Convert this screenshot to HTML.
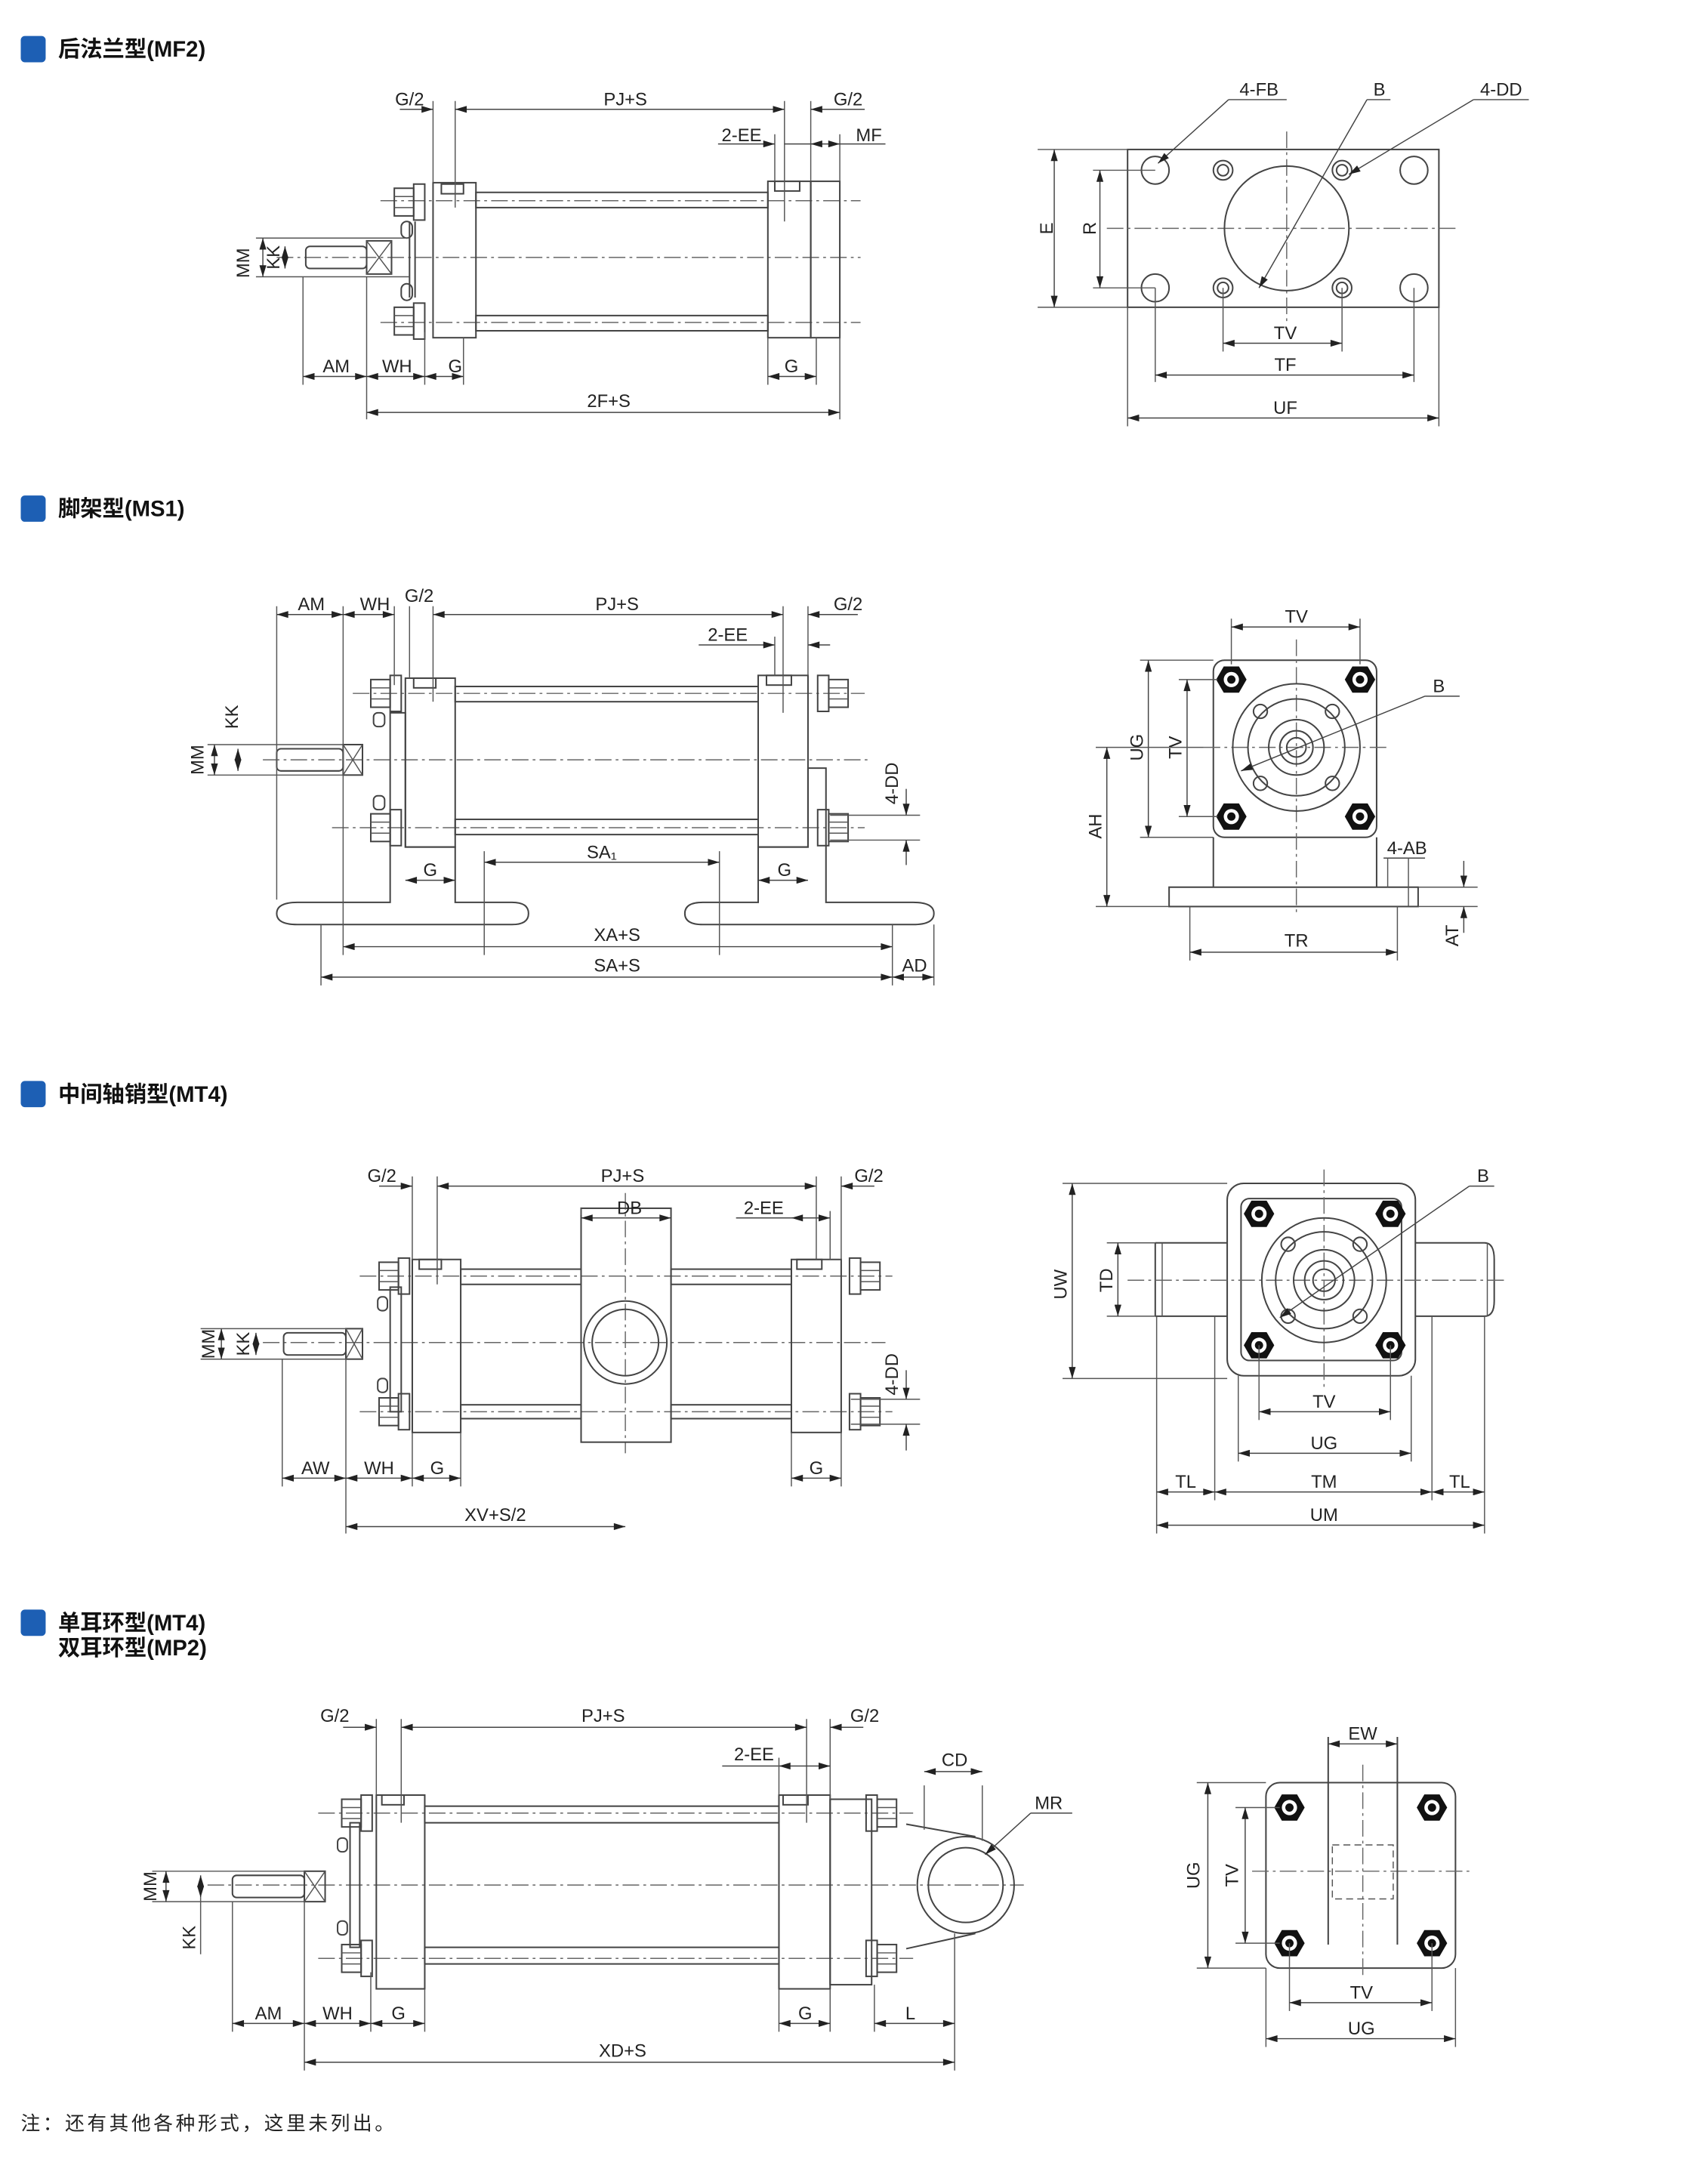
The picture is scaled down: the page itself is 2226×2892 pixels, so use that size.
<!DOCTYPE html>
<html><head><meta charset="utf-8"><style>
html,body{margin:0;padding:0;background:#fff}
svg{display:block}
.o{fill:none;stroke:#444;stroke-width:1.1}
.t{fill:none;stroke:#555;stroke-width:0.8}
.c{fill:none;stroke:#666;stroke-width:0.8;stroke-dasharray:12,3,2,3}
.d{fill:none;stroke:#444;stroke-width:0.8}
.dm{fill:none;stroke:#444;stroke-width:0.8;marker-start:url(#a);marker-end:url(#a)}
.de{fill:none;stroke:#444;stroke-width:0.8;marker-end:url(#a)}
text{font-family:"Liberation Sans",sans-serif;font-size:13px;fill:#222}
.h{font-family:"Liberation Sans","Noto Sans CJK SC",sans-serif;font-size:16px;font-weight:bold;fill:#111}
.nut{fill:#111;stroke:#111}
</style></head><body>
<svg width="2226" height="2892" viewBox="0 0 1215 1578" preserveAspectRatio="none" xmlns="http://www.w3.org/2000/svg">
<defs>
<marker id="a" viewBox="0 0 10 6" refX="10" refY="3" markerWidth="9" markerHeight="5" markerUnits="userSpaceOnUse" orient="auto-start-reverse"><path d="M0,0L10,3L0,6z" fill="#222"/></marker>
<g id="hex"><polygon points="-11,0 -5.5,-9.5 5.5,-9.5 11,0 5.5,9.5 -5.5,9.5" fill="#111"/><circle r="5.5" fill="#fff"/><circle r="3" fill="#111"/></g>
<g id="nutL"><rect x="-8" y="-10" width="14" height="20" class="o" fill="#fff"/><rect x="6" y="-13" width="8" height="26" class="o"/><line x1="-8" y1="-4" x2="6" y2="-4" class="t"/><line x1="-8" y1="4" x2="6" y2="4" class="t"/></g>
</defs>

<!-- ===== Section 1 MF2 ===== -->
<rect x="15" y="26" width="18" height="19" rx="3" fill="#1d5fb4"/>
<text x="42" y="41" class="h">后法兰型(MF2)</text>
<!-- left view -->
<line x1="200" y1="186" x2="622" y2="186" class="c"/>
<line x1="275" y1="145" x2="622" y2="145" class="c"/>
<line x1="275" y1="233" x2="622" y2="233" class="c"/>
<rect x="313" y="132" width="31" height="112" class="o"/>
<rect x="344" y="139" width="211" height="11" class="o"/>
<rect x="344" y="228" width="211" height="11" class="o"/>
<rect x="555" y="131" width="31" height="113" class="o"/>
<rect x="586" y="131" width="21" height="113" class="o"/>
<rect x="319" y="133" width="16" height="7" class="o"/>
<rect x="560" y="131" width="18" height="7" class="o"/>
<use href="#nutL" x="293" y="146"/>
<use href="#nutL" x="293" y="232"/>
<line x1="300" y1="160" x2="300" y2="215" class="o"/>
<line x1="296" y1="160" x2="296" y2="215" class="o"/>
<rect x="290" y="160" width="8" height="12" rx="4" class="o"/>
<rect x="290" y="205" width="8" height="12" rx="4" class="o"/>
<rect x="265" y="174" width="18" height="24" class="o"/>
<path d="M265,174L283,198M283,174L265,198" class="t"/>
<rect x="221" y="178" width="44" height="16" rx="3" class="o"/>
<line x1="185" y1="172" x2="296" y2="172" class="t"/>
<line x1="185" y1="200" x2="296" y2="200" class="t"/>
<line x1="190" y1="172" x2="190" y2="200" class="dm"/>
<line x1="206" y1="178" x2="206" y2="194" class="dm"/>
<text x="180" y="190" transform="rotate(-90 180 190)" text-anchor="middle">MM</text>
<text x="202" y="186" transform="rotate(-90 202 186)" text-anchor="middle">KK</text>
<!-- ext lines -->
<line x1="313" y1="73" x2="313" y2="132" class="t"/>
<line x1="329" y1="73" x2="329" y2="150" class="t"/>
<line x1="567" y1="73" x2="567" y2="160" class="t"/>
<line x1="586" y1="73" x2="586" y2="131" class="t"/>
<line x1="607" y1="97" x2="607" y2="131" class="t"/>
<line x1="560" y1="97" x2="560" y2="131" class="t"/>
<line x1="289" y1="79" x2="313" y2="79" class="de"/>
<line x1="329" y1="79" x2="567" y2="79" class="dm"/>
<line x1="625" y1="79" x2="586" y2="79" class="de"/>
<text x="296" y="76" text-anchor="middle">G/2</text>
<text x="452" y="76" text-anchor="middle">PJ+S</text>
<text x="613" y="76" text-anchor="middle">G/2</text>
<line x1="519" y1="104" x2="560" y2="104" class="de"/>
<line x1="567" y1="104" x2="586" y2="104" class="d"/>
<line x1="586" y1="104" x2="607" y2="104" class="dm"/>
<line x1="607" y1="104" x2="640" y2="104" class="d"/>
<text x="536" y="102" text-anchor="middle">2-EE</text>
<text x="628" y="102" text-anchor="middle">MF</text>
<line x1="219" y1="200" x2="219" y2="278" class="t"/>
<line x1="265" y1="200" x2="265" y2="303" class="t"/>
<line x1="307" y1="240" x2="307" y2="278" class="t"/>
<line x1="335" y1="244" x2="335" y2="278" class="t"/>
<line x1="555" y1="244" x2="555" y2="278" class="t"/>
<line x1="590" y1="244" x2="590" y2="278" class="t"/>
<line x1="607" y1="244" x2="607" y2="303" class="t"/>
<line x1="219" y1="272" x2="265" y2="272" class="dm"/>
<line x1="265" y1="272" x2="307" y2="272" class="dm"/>
<line x1="307" y1="272" x2="335" y2="272" class="dm"/>
<line x1="555" y1="272" x2="590" y2="272" class="dm"/>
<line x1="265" y1="298" x2="607" y2="298" class="dm"/>
<text x="243" y="269" text-anchor="middle">AM</text>
<text x="287" y="269" text-anchor="middle">WH</text>
<text x="329" y="269" text-anchor="middle">G</text>
<text x="572" y="269" text-anchor="middle">G</text>
<text x="440" y="294" text-anchor="middle">2F+S</text>
<!-- right end view -->
<rect x="815" y="108" width="225" height="114" class="o"/>
<line x1="800" y1="165" x2="1055" y2="165" class="c"/>
<line x1="930" y1="95" x2="930" y2="232" class="c"/>
<circle cx="930" cy="165" r="45" class="o"/>
<g class="o"><circle cx="835" cy="123" r="10"/><circle cx="1022" cy="123" r="10"/><circle cx="835" cy="208" r="10"/><circle cx="1022" cy="208" r="10"/>
<circle cx="884" cy="123" r="7"/><circle cx="970" cy="123" r="7"/><circle cx="884" cy="208" r="7"/><circle cx="970" cy="208" r="7"/>
<circle cx="884" cy="123" r="4"/><circle cx="970" cy="123" r="4"/><circle cx="884" cy="208" r="4"/><circle cx="970" cy="208" r="4"/></g>
<line x1="750" y1="108" x2="815" y2="108" class="t"/>
<line x1="750" y1="222" x2="815" y2="222" class="t"/>
<line x1="790" y1="123" x2="835" y2="123" class="t"/>
<line x1="790" y1="208" x2="835" y2="208" class="t"/>
<line x1="762" y1="108" x2="762" y2="222" class="dm"/>
<line x1="795" y1="123" x2="795" y2="208" class="dm"/>
<text x="761" y="165" transform="rotate(-90 761 165)" text-anchor="middle">E</text>
<text x="792" y="165" transform="rotate(-90 792 165)" text-anchor="middle">R</text>
<line x1="884" y1="208" x2="884" y2="254" class="t"/>
<line x1="970" y1="208" x2="970" y2="254" class="t"/>
<line x1="835" y1="208" x2="835" y2="276" class="t"/>
<line x1="1022" y1="208" x2="1022" y2="276" class="t"/>
<line x1="815" y1="222" x2="815" y2="308" class="t"/>
<line x1="1040" y1="222" x2="1040" y2="308" class="t"/>
<line x1="884" y1="248" x2="970" y2="248" class="dm"/>
<line x1="835" y1="271" x2="1022" y2="271" class="dm"/>
<line x1="815" y1="302" x2="1040" y2="302" class="dm"/>
<text x="929" y="245" text-anchor="middle">TV</text>
<text x="929" y="268" text-anchor="middle">TF</text>
<text x="929" y="299" text-anchor="middle">UF</text>
<line x1="930" y1="72" x2="888" y2="72" class="d"/><line x1="888" y1="72" x2="837" y2="118" class="de"/>
<text x="910" y="69" text-anchor="middle">4-FB</text>
<line x1="1005" y1="72" x2="988" y2="72" class="d"/><line x1="988" y1="72" x2="910" y2="208" class="de"/>
<text x="997" y="69" text-anchor="middle">B</text>
<line x1="1105" y1="72" x2="1065" y2="72" class="d"/><line x1="1065" y1="72" x2="975" y2="126" class="de"/>
<text x="1085" y="69" text-anchor="middle">4-DD</text>

<!-- ===== Section 2 MS1 ===== -->
<rect x="15" y="358" width="18" height="19" rx="3" fill="#1d5fb4"/>
<text x="42" y="373" class="h">脚架型(MS1)</text>
<line x1="190" y1="549" x2="630" y2="549" class="c"/>
<line x1="255" y1="501" x2="625" y2="501" class="c"/>
<line x1="240" y1="598" x2="625" y2="598" class="c"/>
<rect x="293" y="490" width="36" height="122" class="o"/>
<rect x="329" y="496" width="219" height="11" class="o"/>
<rect x="329" y="592" width="219" height="11" class="o"/>
<rect x="548" y="488" width="36" height="124" class="o"/>
<rect x="299" y="490" width="16" height="7" class="o"/>
<rect x="554" y="488" width="18" height="7" class="o"/>
<path d="M282,515L282,652L215,652Q200,652 200,660Q200,668 215,668L370,668Q382,668 382,660Q382,652 370,652L329,652L329,612L293,612L293,515Z" class="o"/>
<path d="M597,555L597,652L660,652Q675,652 675,660Q675,668 660,668L508,668Q495,668 495,660Q495,652 508,652L548,652L548,612L584,612L584,555Z" class="o"/>
<use href="#nutL" x="276" y="501"/>
<use href="#nutL" x="276" y="598"/>
<g transform="translate(605 501) scale(-1 1)"><use href="#nutL"/></g>
<g transform="translate(605 598) scale(-1 1)"><use href="#nutL"/></g>
<rect x="270" y="515" width="8" height="10" rx="3" class="o"/>
<rect x="270" y="575" width="8" height="10" rx="3" class="o"/>
<rect x="248" y="538" width="14" height="22" class="o"/>
<path d="M248,538L262,560M262,538L248,560" class="t"/>
<rect x="200" y="541" width="48" height="16" rx="3" class="o"/>
<line x1="150" y1="538" x2="248" y2="538" class="t"/>
<line x1="150" y1="560" x2="248" y2="560" class="t"/>
<line x1="155" y1="538" x2="155" y2="560" class="dm"/>
<line x1="172" y1="541" x2="172" y2="557" class="dm"/>
<text x="147" y="549" transform="rotate(-90 147 549)" text-anchor="middle">MM</text>
<text x="172" y="518" transform="rotate(-90 172 518)" text-anchor="middle">KK</text>
<line x1="200" y1="438" x2="200" y2="650" class="t"/>
<line x1="248" y1="438" x2="248" y2="690" class="t"/>
<line x1="285" y1="438" x2="285" y2="495" class="t"/>
<line x1="296" y1="438" x2="296" y2="490" class="t"/>
<line x1="313" y1="438" x2="313" y2="507" class="t"/>
<line x1="566" y1="438" x2="566" y2="515" class="t"/>
<line x1="584" y1="438" x2="584" y2="488" class="t"/>
<line x1="200" y1="444" x2="248" y2="444" class="dm"/>
<line x1="248" y1="444" x2="285" y2="444" class="dm"/>
<line x1="313" y1="444" x2="566" y2="444" class="dm"/>
<line x1="620" y1="444" x2="584" y2="444" class="de"/>
<text x="225" y="441" text-anchor="middle">AM</text>
<text x="271" y="441" text-anchor="middle">WH</text>
<text x="303" y="435" text-anchor="middle">G/2</text>
<text x="446" y="441" text-anchor="middle">PJ+S</text>
<text x="613" y="441" text-anchor="middle">G/2</text>
<line x1="505" y1="466" x2="560" y2="466" class="de"/>
<line x1="600" y1="466" x2="584" y2="466" class="de"/>
<line x1="560" y1="460" x2="560" y2="488" class="t"/>
<text x="526" y="463" text-anchor="middle">2-EE</text>
<line x1="600" y1="589" x2="665" y2="589" class="t"/>
<line x1="600" y1="607" x2="665" y2="607" class="t"/>
<line x1="655" y1="570" x2="655" y2="589" class="de"/>
<line x1="655" y1="625" x2="655" y2="607" class="de"/>
<text x="649" y="566" transform="rotate(-90 649 566)" text-anchor="middle">4-DD</text>
<line x1="350" y1="615" x2="350" y2="690" class="t"/>
<line x1="520" y1="615" x2="520" y2="690" class="t"/>
<line x1="350" y1="623" x2="520" y2="623" class="dm"/>
<text x="435" y="620" text-anchor="middle">SA₁</text>
<line x1="293" y1="636" x2="329" y2="636" class="dm"/>
<line x1="548" y1="636" x2="584" y2="636" class="dm"/>
<text x="311" y="633" text-anchor="middle">G</text>
<text x="567" y="633" text-anchor="middle">G</text>
<line x1="232" y1="668" x2="232" y2="712" class="t"/>
<line x1="645" y1="668" x2="645" y2="712" class="t"/>
<line x1="675" y1="668" x2="675" y2="712" class="t"/>
<line x1="248" y1="684" x2="645" y2="684" class="dm"/>
<line x1="232" y1="706" x2="645" y2="706" class="dm"/>
<line x1="645" y1="706" x2="675" y2="706" class="dm"/>
<text x="446" y="680" text-anchor="middle">XA+S</text>
<text x="446" y="702" text-anchor="middle">SA+S</text>
<text x="661" y="702" text-anchor="middle">AD</text>
<!-- MS1 end view -->
<rect x="877" y="477" width="118" height="128" rx="8" class="o"/>
<line x1="877" y1="605" x2="877" y2="641" class="o"/>
<line x1="995" y1="605" x2="995" y2="641" class="o"/>
<rect x="845" y="641" width="180" height="14" class="o"/>
<line x1="870" y1="540" x2="1005" y2="540" class="c"/>
<line x1="937" y1="462" x2="937" y2="662" class="c"/>
<g class="o"><circle cx="937" cy="540" r="46"/><circle cx="937" cy="540" r="35"/><circle cx="937" cy="540" r="20"/><circle cx="937" cy="540" r="12"/><circle cx="937" cy="540" r="7"/>
<circle cx="911" cy="514" r="5"/><circle cx="963" cy="514" r="5"/><circle cx="911" cy="566" r="5"/><circle cx="963" cy="566" r="5"/></g>
<use href="#hex" x="890" y="491"/><use href="#hex" x="983" y="491"/><use href="#hex" x="890" y="590"/><use href="#hex" x="983" y="590"/>
<line x1="890" y1="447" x2="890" y2="480" class="t"/>
<line x1="983" y1="447" x2="983" y2="480" class="t"/>
<line x1="890" y1="453" x2="983" y2="453" class="dm"/>
<text x="937" y="450" text-anchor="middle">TV</text>
<line x1="824" y1="477" x2="877" y2="477" class="t"/>
<line x1="824" y1="605" x2="877" y2="605" class="t"/>
<line x1="852" y1="491" x2="880" y2="491" class="t"/>
<line x1="852" y1="590" x2="880" y2="590" class="t"/>
<line x1="830" y1="477" x2="830" y2="605" class="dm"/>
<line x1="858" y1="491" x2="858" y2="590" class="dm"/>
<text x="826" y="540" transform="rotate(-90 826 540)" text-anchor="middle">UG</text>
<text x="854" y="540" transform="rotate(-90 854 540)" text-anchor="middle">TV</text>
<line x1="792" y1="540" x2="870" y2="540" class="t"/>
<line x1="792" y1="655" x2="845" y2="655" class="t"/>
<line x1="800" y1="540" x2="800" y2="655" class="dm"/>
<text x="796" y="597" transform="rotate(-90 796 597)" text-anchor="middle">AH</text>
<line x1="860" y1="655" x2="860" y2="694" class="t"/>
<line x1="1010" y1="655" x2="1010" y2="694" class="t"/>
<line x1="860" y1="688" x2="1010" y2="688" class="dm"/>
<text x="937" y="684" text-anchor="middle">TR</text>
<line x1="1000" y1="620" x2="1030" y2="620" class="d"/>
<line x1="1003" y1="620" x2="1003" y2="641" class="t"/>
<line x1="1018" y1="620" x2="1018" y2="655" class="t"/>
<text x="1017" y="617" text-anchor="middle">4-AB</text>
<line x1="1025" y1="641" x2="1068" y2="641" class="t"/>
<line x1="1025" y1="655" x2="1068" y2="655" class="t"/>
<line x1="1058" y1="622" x2="1058" y2="641" class="de"/>
<line x1="1058" y1="674" x2="1058" y2="655" class="de"/>
<text x="1054" y="676" transform="rotate(-90 1054 676)" text-anchor="middle">AT</text>
<line x1="1055" y1="503" x2="1030" y2="503" class="d"/><line x1="1030" y1="503" x2="897" y2="557" class="de"/>
<text x="1040" y="500" text-anchor="middle">B</text>

<!-- ===== Section 3 MT4 ===== -->
<rect x="15" y="781" width="18" height="19" rx="3" fill="#1d5fb4"/>
<text x="42" y="796" class="h">中间轴销型(MT4)</text>
<line x1="190" y1="970" x2="640" y2="970" class="c"/>
<line x1="260" y1="922" x2="645" y2="922" class="c"/>
<line x1="260" y1="1020" x2="645" y2="1020" class="c"/>
<line x1="452" y1="862" x2="452" y2="1050" class="c"/>
<rect x="298" y="910" width="35" height="125" class="o"/>
<rect x="333" y="917" width="87" height="11" class="o"/>
<rect x="333" y="1015" width="87" height="10" class="o"/>
<rect x="485" y="917" width="87" height="11" class="o"/>
<rect x="485" y="1015" width="87" height="10" class="o"/>
<rect x="420" y="873" width="65" height="169" class="o"/>
<circle cx="452" cy="970" r="30" class="o"/><circle cx="452" cy="970" r="24" class="o"/>
<rect x="572" y="910" width="36" height="125" class="o"/>
<rect x="303" y="910" width="16" height="7" class="o"/>
<rect x="576" y="910" width="18" height="7" class="o"/>
<rect x="282" y="930" width="8" height="90" class="o"/>
<use href="#nutL" x="282" y="922"/>
<use href="#nutL" x="282" y="1020"/>
<g transform="translate(628 922) scale(-1 1)"><use href="#nutL"/></g>
<g transform="translate(628 1020) scale(-1 1)"><use href="#nutL"/></g>
<rect x="273" y="937" width="7" height="10" rx="3" class="o"/>
<rect x="273" y="996" width="7" height="10" rx="3" class="o"/>
<rect x="250" y="960" width="12" height="22" class="o"/>
<path d="M250,960L262,982M262,960L250,982" class="t"/>
<rect x="205" y="963" width="45" height="16" rx="3" class="o"/>
<line x1="145" y1="960" x2="250" y2="960" class="t"/>
<line x1="145" y1="982" x2="250" y2="982" class="t"/>
<line x1="160" y1="960" x2="160" y2="982" class="dm"/>
<line x1="185" y1="963" x2="185" y2="979" class="dm"/>
<text x="155" y="971" transform="rotate(-90 155 971)" text-anchor="middle">MM</text>
<text x="180" y="971" transform="rotate(-90 180 971)" text-anchor="middle">KK</text>
<line x1="298" y1="850" x2="298" y2="910" class="t"/>
<line x1="316" y1="850" x2="316" y2="928" class="t"/>
<line x1="590" y1="850" x2="590" y2="910" class="t"/>
<line x1="608" y1="850" x2="608" y2="910" class="t"/>
<line x1="274" y1="857" x2="298" y2="857" class="de"/>
<line x1="316" y1="857" x2="590" y2="857" class="dm"/>
<line x1="632" y1="857" x2="608" y2="857" class="de"/>
<text x="276" y="854" text-anchor="middle">G/2</text>
<text x="450" y="854" text-anchor="middle">PJ+S</text>
<text x="628" y="854" text-anchor="middle">G/2</text>
<line x1="420" y1="873" x2="420" y2="878" class="t"/>
<line x1="420" y1="880" x2="485" y2="880" class="dm"/>
<text x="455" y="877" text-anchor="middle">DB</text>
<line x1="532" y1="880" x2="572" y2="880" class="d"/>
<line x1="572" y1="880" x2="600" y2="880" class="dm"/>
<line x1="600" y1="875" x2="600" y2="910" class="t"/>
<text x="552" y="877" text-anchor="middle">2-EE</text>
<line x1="615" y1="1011" x2="665" y2="1011" class="t"/>
<line x1="615" y1="1029" x2="665" y2="1029" class="t"/>
<line x1="655" y1="990" x2="655" y2="1011" class="de"/>
<line x1="655" y1="1048" x2="655" y2="1029" class="de"/>
<text x="649" y="993" transform="rotate(-90 649 993)" text-anchor="middle">4-DD</text>
<line x1="204" y1="982" x2="204" y2="1074" class="t"/>
<line x1="250" y1="982" x2="250" y2="1108" class="t"/>
<line x1="333" y1="1035" x2="333" y2="1074" class="t"/>
<line x1="298" y1="1035" x2="298" y2="1074" class="t"/>
<line x1="572" y1="1035" x2="572" y2="1074" class="t"/>
<line x1="608" y1="1035" x2="608" y2="1074" class="t"/>
<line x1="204" y1="1068" x2="250" y2="1068" class="dm"/>
<line x1="250" y1="1068" x2="298" y2="1068" class="dm"/>
<line x1="298" y1="1068" x2="333" y2="1068" class="dm"/>
<line x1="572" y1="1068" x2="608" y2="1068" class="dm"/>
<line x1="250" y1="1103" x2="452" y2="1103" class="dm"/>
<text x="228" y="1065" text-anchor="middle">AW</text>
<text x="274" y="1065" text-anchor="middle">WH</text>
<text x="316" y="1065" text-anchor="middle">G</text>
<text x="590" y="1065" text-anchor="middle">G</text>
<text x="358" y="1099" text-anchor="middle">XV+S/2</text>
<!-- MT4 end view -->
<path d="M835,898L887,898M835,951L887,951M835,898L835,951" class="o"/>
<path d="M1023,898L1073,898Q1080,898 1080,910L1080,940Q1080,951 1073,951L1023,951" class="o"/>
<line x1="840" y1="898" x2="840" y2="951" class="t"/>
<line x1="1075" y1="898" x2="1075" y2="951" class="t"/>
<rect x="887" y="855" width="136" height="139" rx="12" class="o" fill="#fff"/>
<rect x="897" y="866" width="116" height="117" rx="6" class="o"/>
<line x1="815" y1="925" x2="1090" y2="925" class="c"/>
<line x1="957" y1="845" x2="957" y2="1005" class="c"/>
<g class="o"><circle cx="957" cy="925" r="45"/><circle cx="957" cy="925" r="35"/><circle cx="957" cy="925" r="22"/><circle cx="957" cy="925" r="14"/><circle cx="957" cy="925" r="8"/>
<circle cx="931" cy="899" r="5"/><circle cx="983" cy="899" r="5"/><circle cx="931" cy="951" r="5"/><circle cx="983" cy="951" r="5"/></g>
<use href="#hex" x="910" y="877"/><use href="#hex" x="1005" y="877"/><use href="#hex" x="910" y="972"/><use href="#hex" x="1005" y="972"/>
<line x1="768" y1="855" x2="887" y2="855" class="t"/>
<line x1="768" y1="996" x2="887" y2="996" class="t"/>
<line x1="800" y1="898" x2="835" y2="898" class="t"/>
<line x1="800" y1="951" x2="835" y2="951" class="t"/>
<line x1="775" y1="855" x2="775" y2="996" class="dm"/>
<line x1="808" y1="898" x2="808" y2="951" class="dm"/>
<text x="771" y="928" transform="rotate(-90 771 928)" text-anchor="middle">UW</text>
<text x="804" y="925" transform="rotate(-90 804 925)" text-anchor="middle">TD</text>
<line x1="910" y1="972" x2="910" y2="1026" class="t"/>
<line x1="1005" y1="972" x2="1005" y2="1026" class="t"/>
<line x1="895" y1="994" x2="895" y2="1056" class="t"/>
<line x1="1020" y1="994" x2="1020" y2="1056" class="t"/>
<line x1="878" y1="951" x2="878" y2="1084" class="t"/>
<line x1="1035" y1="951" x2="1035" y2="1084" class="t"/>
<line x1="836" y1="951" x2="836" y2="1108" class="t"/>
<line x1="1073" y1="951" x2="1073" y2="1108" class="t"/>
<line x1="910" y1="1020" x2="1005" y2="1020" class="dm"/>
<line x1="895" y1="1050" x2="1020" y2="1050" class="dm"/>
<line x1="878" y1="1078" x2="1035" y2="1078" class="dm"/>
<line x1="836" y1="1078" x2="878" y2="1078" class="dm"/>
<line x1="1035" y1="1078" x2="1073" y2="1078" class="dm"/>
<line x1="836" y1="1102" x2="1073" y2="1102" class="dm"/>
<text x="957" y="1017" text-anchor="middle">TV</text>
<text x="957" y="1047" text-anchor="middle">UG</text>
<text x="957" y="1075" text-anchor="middle">TM</text>
<text x="857" y="1075" text-anchor="middle">TL</text>
<text x="1055" y="1075" text-anchor="middle">TL</text>
<text x="957" y="1099" text-anchor="middle">UM</text>
<line x1="1080" y1="857" x2="1062" y2="857" class="d"/><line x1="1062" y1="857" x2="925" y2="952" class="de"/>
<text x="1072" y="854" text-anchor="middle">B</text>

<!-- ===== Section 4 ===== -->
<rect x="15" y="1163" width="18" height="19" rx="3" fill="#1d5fb4"/>
<text x="42" y="1178" class="h">单耳环型(MT4)</text>
<text x="42" y="1196" class="h">双耳环型(MP2)</text>
<line x1="150" y1="1362" x2="740" y2="1362" class="c"/>
<line x1="230" y1="1310" x2="660" y2="1310" class="c"/>
<line x1="230" y1="1415" x2="660" y2="1415" class="c"/>
<rect x="272" y="1297" width="35" height="140" class="o"/>
<rect x="307" y="1305" width="256" height="12" class="o"/>
<rect x="307" y="1407" width="256" height="12" class="o"/>
<rect x="563" y="1297" width="37" height="140" class="o"/>
<rect x="600" y="1300" width="30" height="134" class="o"/>
<rect x="276" y="1297" width="16" height="7" class="o"/>
<rect x="566" y="1297" width="18" height="7" class="o"/>
<rect x="253" y="1317" width="7" height="90" class="o"/>
<use href="#nutL" x="255" y="1310"/>
<use href="#nutL" x="255" y="1415"/>
<g transform="translate(640 1310) scale(-1 1)"><use href="#nutL"/></g>
<g transform="translate(640 1415) scale(-1 1)"><use href="#nutL"/></g>
<rect x="244" y="1328" width="7" height="10" rx="3" class="o"/>
<rect x="244" y="1388" width="7" height="10" rx="3" class="o"/>
<rect x="220" y="1352" width="15" height="22" class="o"/>
<path d="M220,1352L235,1374M235,1352L220,1374" class="t"/>
<rect x="168" y="1355" width="52" height="16" rx="3" class="o"/>
<line x1="110" y1="1352" x2="220" y2="1352" class="t"/>
<line x1="110" y1="1374" x2="220" y2="1374" class="t"/>
<line x1="120" y1="1352" x2="120" y2="1374" class="dm"/>
<line x1="145" y1="1355" x2="145" y2="1371" class="dm"/>
<line x1="145" y1="1371" x2="145" y2="1412" class="t"/>
<text x="113" y="1363" transform="rotate(-90 113 1363)" text-anchor="middle">MM</text>
<text x="141" y="1400" transform="rotate(-90 141 1400)" text-anchor="middle">KK</text>
<circle cx="698" cy="1362" r="35" class="o"/>
<circle cx="698" cy="1362" r="27" class="o"/>
<line x1="655" y1="1318" x2="705" y2="1327" class="o"/>
<line x1="655" y1="1408" x2="705" y2="1397" class="o"/>
<line x1="668" y1="1322" x2="668" y2="1290" class="t"/>
<line x1="710" y1="1330" x2="710" y2="1290" class="t"/>
<line x1="668" y1="1280" x2="710" y2="1280" class="dm"/>
<text x="690" y="1276" text-anchor="middle">CD</text>
<line x1="775" y1="1310" x2="745" y2="1310" class="d"/><line x1="745" y1="1310" x2="712" y2="1340" class="de"/>
<text x="758" y="1307" text-anchor="middle">MR</text>
<line x1="272" y1="1242" x2="272" y2="1297" class="t"/>
<line x1="290" y1="1242" x2="290" y2="1317" class="t"/>
<line x1="583" y1="1242" x2="583" y2="1317" class="t"/>
<line x1="600" y1="1242" x2="600" y2="1300" class="t"/>
<line x1="248" y1="1248" x2="272" y2="1248" class="de"/>
<line x1="290" y1="1248" x2="583" y2="1248" class="dm"/>
<line x1="624" y1="1248" x2="600" y2="1248" class="de"/>
<text x="242" y="1244" text-anchor="middle">G/2</text>
<text x="436" y="1244" text-anchor="middle">PJ+S</text>
<text x="625" y="1244" text-anchor="middle">G/2</text>
<line x1="522" y1="1276" x2="563" y2="1276" class="d"/>
<line x1="563" y1="1276" x2="600" y2="1276" class="dm"/>
<line x1="563" y1="1270" x2="563" y2="1297" class="t"/>
<text x="545" y="1272" text-anchor="middle">2-EE</text>
<line x1="168" y1="1374" x2="168" y2="1468" class="t"/>
<line x1="220" y1="1374" x2="220" y2="1496" class="t"/>
<line x1="268" y1="1425" x2="268" y2="1468" class="t"/>
<line x1="307" y1="1437" x2="307" y2="1468" class="t"/>
<line x1="563" y1="1437" x2="563" y2="1468" class="t"/>
<line x1="600" y1="1437" x2="600" y2="1468" class="t"/>
<line x1="632" y1="1434" x2="632" y2="1468" class="t"/>
<line x1="690" y1="1397" x2="690" y2="1496" class="t"/>
<line x1="168" y1="1462" x2="220" y2="1462" class="dm"/>
<line x1="220" y1="1462" x2="268" y2="1462" class="dm"/>
<line x1="268" y1="1462" x2="307" y2="1462" class="dm"/>
<line x1="563" y1="1462" x2="600" y2="1462" class="dm"/>
<line x1="632" y1="1462" x2="690" y2="1462" class="dm"/>
<line x1="220" y1="1490" x2="690" y2="1490" class="dm"/>
<text x="194" y="1459" text-anchor="middle">AM</text>
<text x="244" y="1459" text-anchor="middle">WH</text>
<text x="288" y="1459" text-anchor="middle">G</text>
<text x="582" y="1459" text-anchor="middle">G</text>
<text x="658" y="1459" text-anchor="middle">L</text>
<text x="450" y="1486" text-anchor="middle">XD+S</text>
<!-- right end view -->
<rect x="915" y="1288" width="137" height="134" rx="10" class="o"/>
<line x1="905" y1="1352" x2="1065" y2="1352" class="c"/>
<line x1="985" y1="1275" x2="985" y2="1430" class="c"/>
<line x1="960" y1="1255" x2="960" y2="1405" class="o"/>
<line x1="1010" y1="1255" x2="1010" y2="1405" class="o"/>
<rect x="963" y="1333" width="44" height="39" class="t" stroke-dasharray="5,3"/>
<use href="#hex" x="932" y="1306"/><use href="#hex" x="1035" y="1306"/><use href="#hex" x="932" y="1404"/><use href="#hex" x="1035" y="1404"/>
<line x1="960" y1="1260" x2="1010" y2="1260" class="dm"/>
<text x="985" y="1257" text-anchor="middle">EW</text>
<line x1="865" y1="1288" x2="915" y2="1288" class="t"/>
<line x1="865" y1="1422" x2="915" y2="1422" class="t"/>
<line x1="893" y1="1306" x2="925" y2="1306" class="t"/>
<line x1="893" y1="1404" x2="925" y2="1404" class="t"/>
<line x1="873" y1="1288" x2="873" y2="1422" class="dm"/>
<line x1="900" y1="1306" x2="900" y2="1404" class="dm"/>
<text x="867" y="1355" transform="rotate(-90 867 1355)" text-anchor="middle">UG</text>
<text x="895" y="1355" transform="rotate(-90 895 1355)" text-anchor="middle">TV</text>
<line x1="932" y1="1404" x2="932" y2="1453" class="t"/>
<line x1="1035" y1="1404" x2="1035" y2="1453" class="t"/>
<line x1="915" y1="1422" x2="915" y2="1479" class="t"/>
<line x1="1052" y1="1422" x2="1052" y2="1479" class="t"/>
<line x1="932" y1="1447" x2="1035" y2="1447" class="dm"/>
<line x1="915" y1="1473" x2="1052" y2="1473" class="dm"/>
<text x="984" y="1444" text-anchor="middle">TV</text>
<text x="984" y="1470" text-anchor="middle">UG</text>

<text x="15" y="1539" style="font-family:'Liberation Sans','Noto Sans CJK SC',sans-serif;font-size:14px;letter-spacing:2px">注：还有其他各种形式，这里未列出。</text>
</svg>
</body></html>
